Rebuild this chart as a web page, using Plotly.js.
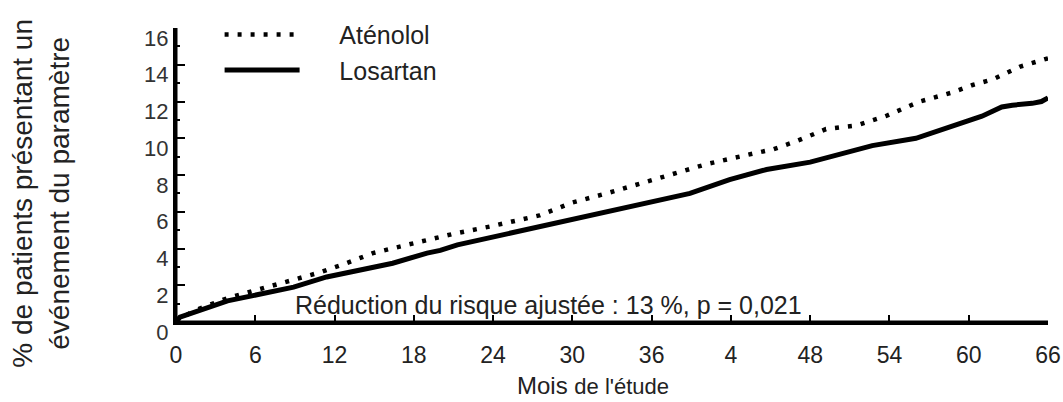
<!DOCTYPE html>
<html><head><meta charset="utf-8">
<script src="https://cdn.plot.ly/plotly-3.0.1.min.js"></script>
<style>html,body{margin:0;padding:0;background:#fff}</style>
</head><body><div id="chart" style="width:1063px;height:402px"></div>
<script>
const seriesNames = ['Aténolol', 'Losartan'];
const atenololMonths = [0, 1.3, 3.9, 6.1, 8.4, 10.9, 12.9, 14.9, 17.5, 19.7, 21, 23.8, 27.5, 30, 32.6, 36.4, 40.2, 43.9, 45.2, 47, 49.2, 51.5, 53.7, 56.3, 58.8, 60.3, 61.8, 63.9, 64.8, 66];
const atenololPct = [0, 0.6, 1.3, 1.75, 2.2, 2.7, 3.2, 3.75, 4.2, 4.6, 4.8, 5.2, 5.8, 6.5, 7.0, 7.8, 8.6, 9.2, 9.4, 9.85, 10.5, 10.7, 11.2, 12.0, 12.5, 12.9, 13.2, 13.9, 14.1, 14.35];
const losartanMonths = [0, 0.3, 3.9, 6.4, 8.9, 11.4, 13.9, 16.4, 19, 20, 21.3, 23.8, 27.5, 31.3, 35.1, 38.9, 41.9, 43.9, 44.7, 48, 50.2, 52.7, 56, 58.8, 61, 62.5, 63.3, 64.8, 65.5, 66];
const losartanPct = [0, 0.26, 1.15, 1.5, 1.9, 2.45, 2.8, 3.2, 3.75, 3.9, 4.2, 4.6, 5.2, 5.8, 6.35, 7.0, 7.75, 8.1, 8.3, 8.7, 9.1, 9.6, 10.0, 10.7, 11.2, 11.7, 11.8, 11.9, 12.0, 12.2];
const xTickVals = [0, 6, 12, 18, 24, 30, 36, 42, 48, 54, 60, 66];
const xTickText = ['0', '6', '12', '18', '24', '30', '36', '4', '48', '54', '60', '66'];
const yTickVals = [0, 2, 4, 6, 8, 10, 12, 14, 16];
const yTitleText = '% de patients présentant un<br>événement du paramètre';
const xTitleText = 'Mois <span style="font-size:22px">de l\'étude</span>';
const noteText = 'Réduction du risque ajustée : 13 %, p = 0,021';

const FONT = 'Liberation Sans, Arial, sans-serif';
const PAD = '\u00a0\u00a0\u00a0\u00a0\u00a0';
const YPAD = '\u2007\u2007\u2002';
const traces = [
  {x: atenololMonths, y: atenololPct, name: PAD + seriesNames[0], mode: 'lines', legendgroup: 'a',
   line: {color: '#000', width: 4.5, dash: '4px,9px'}},
  {x: losartanMonths, y: losartanPct, name: PAD + seriesNames[1], mode: 'lines', legendgroup: 'l',
   line: {color: '#000', width: 5}}
];
const layout = {
  width: 1063, height: 402,
  margin: {l: 176, r: 15, t: 15, b: 80},
  font: {family: FONT, color: '#222'},
  showlegend: true,
  legend: {x: 0.05, y: 1.055, xanchor: 'left', yanchor: 'top', font: {size: 25, color: '#222', family: FONT},
           bgcolor: 'rgba(0,0,0,0)', itemwidth: 75, tracegroupgap: 0},
  xaxis: {range: [0, 66], tickvals: xTickVals, ticktext: xTickText, showgrid: false, zeroline: false,
          showline: true, linecolor: '#000', linewidth: 3, ticks: 'inside', ticklen: 7, tickwidth: 2, tickcolor: '#000',
          tickfont: {size: 23, color: '#222'}, ticklabelstandoff: 10},
  yaxis: {range: [0, 16], tickvals: yTickVals, showgrid: false, zeroline: false,
          showline: true, linecolor: '#000', linewidth: 3, ticks: 'inside', ticklen: 9, tickwidth: 2, tickcolor: '#000',
          minor: {dtick: 1, ticks: 'inside', ticklen: 4, tickcolor: '#000'},
          tickfont: {size: 22, color: '#333'}, ticksuffix: YPAD, ticklabelshift: 10},
  // axis frame lines (left and bottom edges of the plot area)
  shapes: [
    {type: 'line', xref: 'paper', yref: 'paper', x0: 0, x1: 0, y0: -0.004, y1: 1, line: {color: '#000', width: 3}, layer: 'above'},
    {type: 'line', xref: 'paper', yref: 'paper', x0: 0, x1: 1, y0: 0, y1: 0, line: {color: '#000', width: 3}, layer: 'above'}
  ],
  annotations: [
    {text: noteText, x: 28.2, y: 0.9, xref: 'x', yref: 'y', showarrow: false, font: {size: 25, color: '#222', family: FONT}},
    {text: yTitleText, showarrow: false, textangle: -90, xanchor: 'center', yanchor: 'middle',
     font: {size: 28, color: '#222', family: FONT}},
    {text: xTitleText, showarrow: false, xanchor: 'center', yanchor: 'middle',
     font: {size: 24, color: '#222', family: FONT}}
  ]
};
// place the axis titles in paper coordinates from their pixel centres
const pw = 1063 - 176 - 15, ph = 402 - 15 - 80;
const yTitleCentre = [41, 188], xTitleCentre = [593, 388];
layout.annotations[1].xref = 'paper'; layout.annotations[1].yref = 'paper';
layout.annotations[1].x = (yTitleCentre[0] - 176) / pw; layout.annotations[1].y = (402 - 80 - yTitleCentre[1]) / ph;
layout.annotations[2].xref = 'paper'; layout.annotations[2].yref = 'paper';
layout.annotations[2].x = (xTitleCentre[0] - 176) / pw; layout.annotations[2].y = (402 - 80 - xTitleCentre[1]) / ph;
Plotly.newPlot('chart', traces, layout, {displayModeBar: false, staticPlot: true});
</script></body></html>
